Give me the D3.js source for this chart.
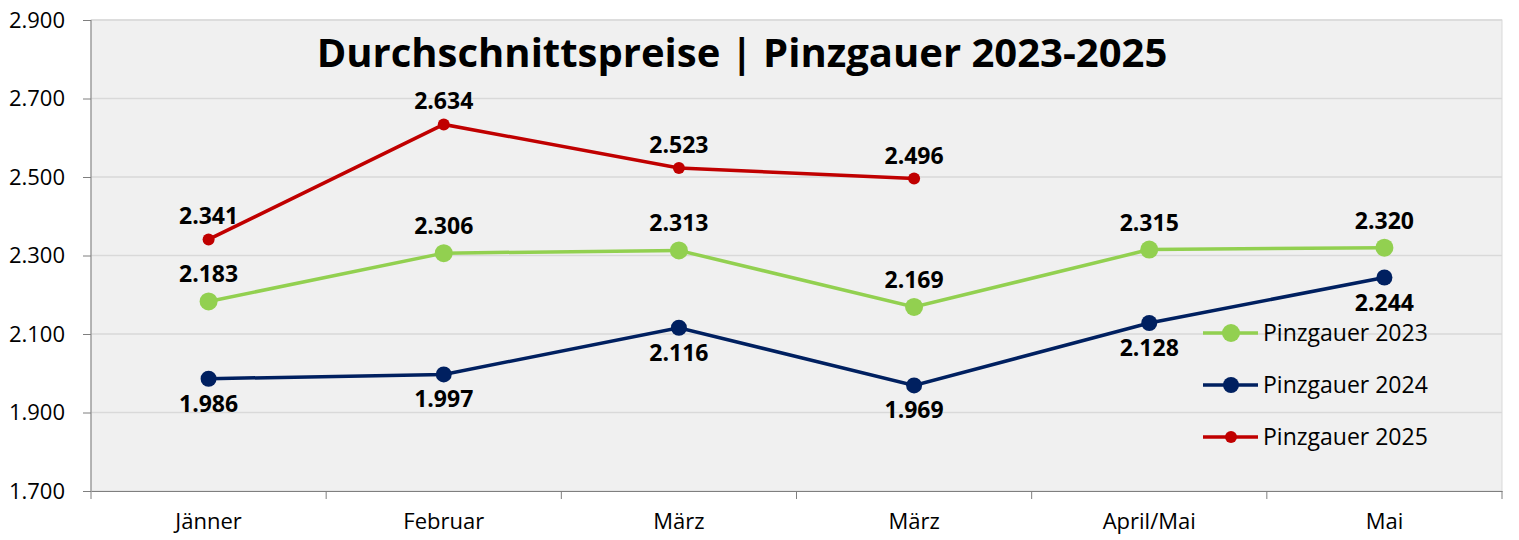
<!DOCTYPE html>
<html>
<head>
<meta charset="utf-8">
<script src="https://cdn.jsdelivr.net/npm/d3@7"></script>
<style>
  body { margin: 0; background: #fff; }
  text { font-family: "Open Sans", "Noto Sans", sans-serif; }
</style>
</head>
<body>
<script>
// chart data
const months = ["Jänner", "Februar", "März", "März", "April/Mai", "Mai"];
const yTicks = [1700, 1900, 2100, 2300, 2500, 2700, 2900];
const price2023 = [2183, 2306, 2313, 2169, 2315, 2320];
const price2024 = [1986, 1997, 2116, 1969, 2128, 2244];
const price2025 = [2341, 2634, 2523, 2496];

const series = [
  { name: "Pinzgauer 2023", values: price2023, color: "#92d050", r: 9, labelDy: -27 },
  { name: "Pinzgauer 2024", values: price2024, color: "#002060", r: 8, labelDy: 25 },
  { name: "Pinzgauer 2025", values: price2025, color: "#c00000", r: 6, labelDy: -23 }
];

const width = 1519, height = 540;
const margin = { top: 20, right: 17, bottom: 49, left: 91 };

const svg = d3.select("body").append("svg")
  .attr("width", width)
  .attr("height", height);

const x = d3.scaleBand()
  .domain(d3.range(months.length))
  .range([margin.left, width - margin.right]);

const y = d3.scaleLinear()
  .domain([1700, 2900])
  .range([height - margin.bottom, margin.top]);

const fmt = v => d3.format(",")(v).replace(",", ".");

// plot background
svg.append("rect")
  .attr("x", margin.left).attr("y", margin.top)
  .attr("width", width - margin.left - margin.right)
  .attr("height", height - margin.top - margin.bottom)
  .attr("fill", "#f0f0f0")
  .attr("stroke", "#d9d9d9");

// gridlines
svg.append("g").selectAll("line")
  .data(yTicks.slice(1))
  .enter().append("line")
  .attr("x1", margin.left).attr("x2", width - margin.right)
  .attr("y1", d => y(d)).attr("y2", d => y(d))
  .attr("stroke", "#d9d9d9").attr("stroke-width", 1.5);

// y axis
const yAxis = svg.append("g")
  .attr("transform", `translate(${margin.left},0)`)
  .call(d3.axisLeft(y).tickValues(yTicks).tickSize(8).tickPadding(18).tickFormat(fmt));
yAxis.selectAll("text").attr("font-size", 22).attr("fill", "#000")
  .attr("font-family", "Open Sans, sans-serif");
yAxis.selectAll("line, path").attr("stroke", "#7f7f7f");
yAxis.select(".domain").attr("d", `M0,${y(1700)}V${y(2900)}`);

// x axis
const xAxis = svg.append("g")
  .attr("transform", `translate(0,${y(1700)})`)
  .call(d3.axisBottom(x).tickFormat(i => months[i]).tickSize(0).tickPadding(22));
xAxis.selectAll("text").attr("font-size", 22).attr("fill", "#000")
  .attr("font-family", "Open Sans, sans-serif");
xAxis.select(".domain").attr("stroke", "#7f7f7f");
xAxis.selectAll(".sep")
  .data(d3.range(months.length + 1))
  .enter().append("line")
  .attr("class", "sep")
  .attr("x1", i => margin.left + i * x.step())
  .attr("x2", i => margin.left + i * x.step())
  .attr("y1", 0).attr("y2", 8)
  .attr("stroke", "#7f7f7f");

// title
svg.append("text")
  .attr("x", 742).attr("y", 67)
  .attr("text-anchor", "middle")
  .attr("font-size", 40)
  .attr("font-weight", "bold")
  .attr("fill", "#000")
  .text("Durchschnittspreise | Pinzgauer 2023-2025");

const cx = i => x(i) + x.bandwidth() / 2;
const line = d3.line().x((d, i) => cx(i)).y(d => y(d));

series.forEach(s => {
  const g = svg.append("g");
  g.append("path")
    .datum(s.values)
    .attr("d", line)
    .attr("fill", "none")
    .attr("stroke", s.color)
    .attr("stroke-width", 3.5);
  g.selectAll("circle")
    .data(s.values)
    .enter().append("circle")
    .attr("cx", (d, i) => cx(i))
    .attr("cy", d => y(d))
    .attr("r", s.r)
    .attr("fill", s.color);
  g.selectAll("text")
    .data(s.values)
    .enter().append("text")
    .attr("x", (d, i) => cx(i))
    .attr("y", d => y(d) + s.labelDy)
    .attr("dy", "0.35em")
    .attr("text-anchor", "middle")
    .attr("font-size", 23)
    .attr("font-weight", "bold")
    .attr("fill", "#000")
    .text(d => fmt(d));
});

// legend
const legend = svg.append("g")
  .selectAll("g")
  .data(series)
  .enter().append("g")
  .attr("transform", (d, i) => `translate(1203,${333 + i * 52})`);
legend.append("line")
  .attr("x1", 0).attr("x2", 55)
  .attr("stroke", d => d.color).attr("stroke-width", 3.5);
legend.append("circle")
  .attr("cx", 28).attr("r", d => d.r)
  .attr("fill", d => d.color);
legend.append("text")
  .attr("x", 60).attr("dy", "0.35em")
  .attr("font-size", 23)
  .attr("fill", "#000")
  .text(d => d.name);
</script>
</body>
</html>
